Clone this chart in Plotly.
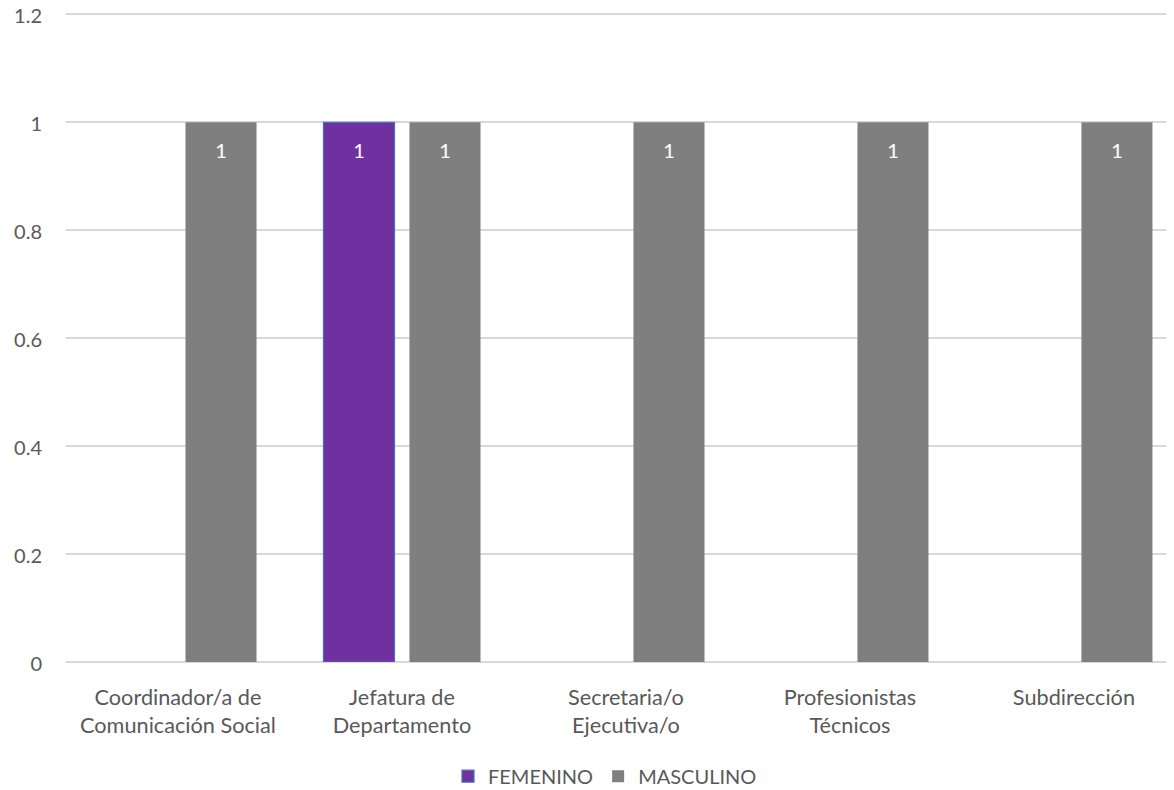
import plotly.graph_objects as go

categories = ["Coordinador/a de<br>Comunicación Social", "Jefatura de<br>Departamento",
              "Secretaria/o<br>Ejecutiva/o", "Profesionistas<br>Técnicos", "Subdirección"]
femenino = [None, 1, None, None, None]
masculino = [1, 1, 1, 1, 1]
y_ticks = [0, 0.2, 0.4, 0.6, 0.8, 1, 1.2]
y_ticktext = ["0", "0.2", "0.4", "0.6", "0.8", "1", "1.2"]

FONT = "Lato"
LABEL_TMPL = "<span style='font-size:7px'>\u00a0</span><br>%{y}"
fig = go.Figure()
fig.add_trace(go.Bar(
    name="FEMENINO", x=categories, y=femenino,
    marker=dict(color="#7030A0", line=dict(color="#4472C4", width=1.2)),
    texttemplate=LABEL_TMPL, textposition="inside", insidetextanchor="end",
    textfont=dict(color="white", size=20, family=FONT), textangle=0,
))
fig.add_trace(go.Bar(
    name="MASCULINO", x=categories, y=masculino,
    marker=dict(color="#7F7F7F", line=dict(width=0)),
    texttemplate=LABEL_TMPL, textposition="inside", insidetextanchor="end",
    textfont=dict(color="white", size=20, family=FONT), textangle=0,
))

# the page body has an 8px margin, so the figure is sized/offset to compensate
fig.update_layout(
    width=1158, height=782,
    margin=dict(l=58, r=0, t=5, b=128, autoexpand=False),
    paper_bgcolor="white", plot_bgcolor="white",
    barmode="group", bargap=0.232, bargroupgap=0.174,
    font=dict(family=FONT, size=20, color="#595959"),
    legend=dict(orientation="h", x=0.49, xanchor="center", y=-0.176, yanchor="middle",
                font=dict(size=20, color="#595959", family=FONT), itemclick=False),
)
fig.update_xaxes(range=[-0.5, 4.411], showgrid=False, showline=False, zeroline=False,
                 tickfont=dict(size=21.7, color="#595959"), ticks="", ticklabelstandoff=20)
fig.update_yaxes(range=[0, 1.2025], tickvals=y_ticks, ticktext=y_ticktext,
                 showgrid=True, gridcolor="#D9D9D9", gridwidth=1.5,
                 zeroline=True, zerolinecolor="#D9D9D9", zerolinewidth=1.5,
                 showline=False, ticks="", ticklabelstandoff=23, ticklabeloverflow="allow",
                 ticklabelshift=2,
                 tickfont=dict(size=20, color="#595959"))

fig.write_html("out.html")
